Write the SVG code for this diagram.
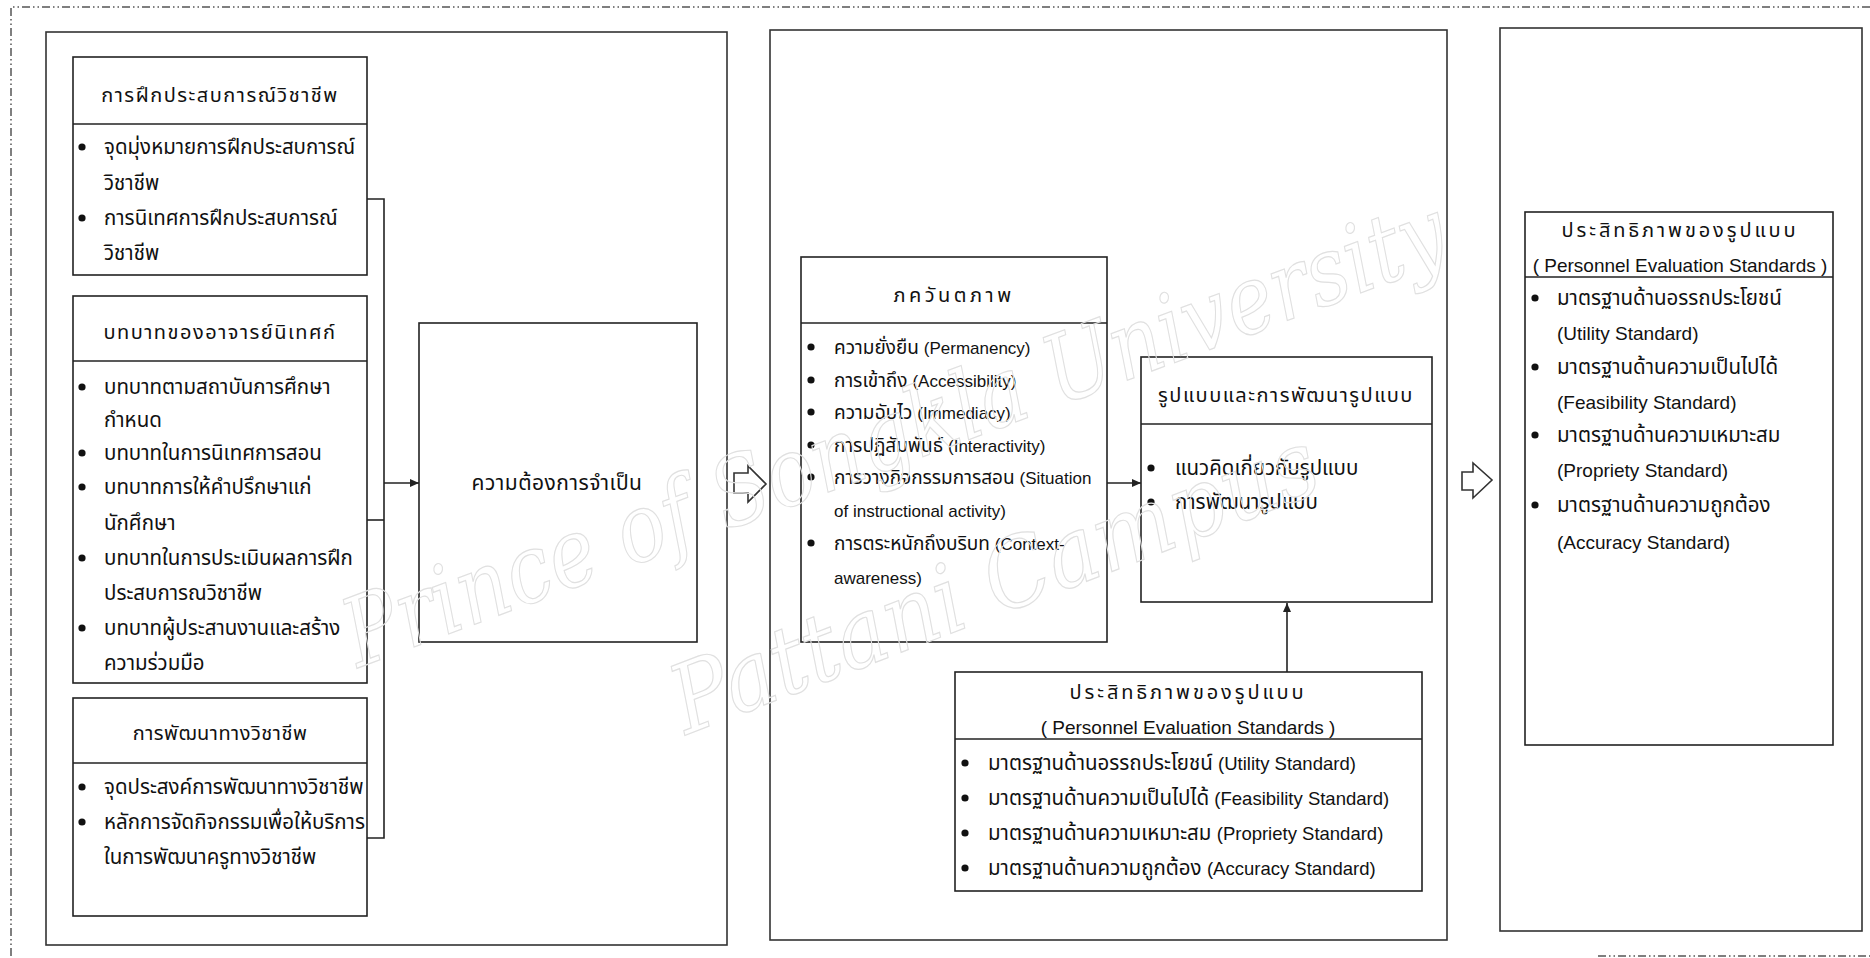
<svg xmlns="http://www.w3.org/2000/svg" width="1870" height="958" viewBox="0 0 1870 958">
<defs>
<style>
.bg{fill:#ffffff}
.panel{fill:none;stroke:#333;stroke-width:1.6}
.box{fill:#ffffff;stroke:#222;stroke-width:1.6}
.div{stroke:#222;stroke-width:1.6}
.t{font-family:"Noto Sans Thai","Liberation Sans",sans-serif;font-size:20.5px;fill:#111}
.tm{font-family:"Noto Sans Thai","Liberation Sans",sans-serif;font-size:19px;fill:#111}
.e{font-family:"Liberation Sans",Arial,sans-serif;font-size:18.5px}
.em{font-family:"Liberation Sans",Arial,sans-serif;font-size:17px}
.h{font-family:"Noto Sans Thai","Liberation Sans",sans-serif;font-size:20px;fill:#111;text-anchor:middle;letter-spacing:1.5px}
.he{font-family:"Liberation Sans",Arial,sans-serif;font-size:19px;fill:#111;text-anchor:middle}
.c{font-family:"Noto Sans Thai","Liberation Sans",sans-serif;font-size:21px;fill:#111;text-anchor:middle;letter-spacing:0.5px}
.dot{fill:#111}
.con{fill:none;stroke:#222;stroke-width:1.6}
.blk{fill:#fff;stroke:#333;stroke-width:1.6;stroke-linejoin:miter}
.frame{fill:none;stroke:#555;stroke-width:1.5;stroke-dasharray:8 3 1.5 3 1.5 3}
.wm{font-family:"DejaVu Serif",serif;font-style:italic;font-size:95px;fill:none;stroke:#e0e0e0;stroke-width:1.2}
</style>
<marker id="ah" markerWidth="10" markerHeight="8" refX="9" refY="4" orient="auto" markerUnits="userSpaceOnUse">
<path d="M0,0 L9,4 L0,8 Z" fill="#222"/>
</marker>
</defs>
<rect class="bg" x="0" y="0" width="1870" height="958"/>
<path class="frame" d="M1870,7 H11 V958"/>
<path class="frame" d="M1598,956 H1870"/>

<g id="panel1"><rect class="panel" x="46" y="32" width="681" height="913"/></g>
<g id="panel2"><rect class="panel" x="770" y="30" width="677" height="910"/></g>
<g id="panel3"><rect class="panel" x="1500" y="28" width="362" height="903"/></g>

<g id="connectors">
<path class="con" d="M367,199 H384 V838 H367"/>
<path class="con" d="M367,520 H384"/>
<path class="con" d="M384,483 H419" marker-end="url(#ah)"/>
<path class="con" d="M1107,483 H1141" marker-end="url(#ah)"/>
<path class="con" d="M1287,672 V603" marker-end="url(#ah)"/>
<polygon class="blk" points="734,473 748,473 748,466 766,484 748,502 748,493 734,493"/>
<polygon class="blk" points="1462,472 1473,472 1473,463 1492,480 1473,498 1473,490 1462,490"/>
</g>

<g id="box-a">
<rect class="box" x="73" y="57" width="294" height="218"/>
<line class="div" x1="73" y1="124" x2="367" y2="124"/>
<text class="h" x="220" y="102">การฝึกประสบการณ์วิชาชีพ</text>
<circle class="dot" cx="82" cy="147" r="3.6"/>
<text class="t" x="104" y="154">จุดมุ่งหมายการฝึกประสบการณ์</text>
<text class="t" x="104" y="190">วิชาชีพ</text>
<circle class="dot" cx="82" cy="218" r="3.6"/>
<text class="t" x="104" y="225">การนิเทศการฝึกประสบการณ์</text>
<text class="t" x="104" y="260">วิชาชีพ</text>
</g>

<g id="box-b">
<rect class="box" x="73" y="296" width="294" height="387"/>
<line class="div" x1="73" y1="361" x2="367" y2="361"/>
<text class="h" x="220" y="339">บทบาทของอาจารย์นิเทศก์</text>
<circle class="dot" cx="82" cy="387" r="3.6"/>
<text class="t" x="104" y="394">บทบาทตามสถาบันการศึกษา</text>
<text class="t" x="104" y="427">กำหนด</text>
<circle class="dot" cx="82" cy="453" r="3.6"/>
<text class="t" x="104" y="460">บทบาทในการนิเทศการสอน</text>
<circle class="dot" cx="82" cy="487" r="3.6"/>
<text class="t" x="104" y="494">บทบาทการให้คำปรึกษาแก่</text>
<text class="t" x="104" y="530">นักศึกษา</text>
<circle class="dot" cx="82" cy="558" r="3.6"/>
<text class="t" x="104" y="565">บทบาทในการประเมินผลการฝึก</text>
<text class="t" x="104" y="600">ประสบการณวิชาชีพ</text>
<circle class="dot" cx="82" cy="628" r="3.6"/>
<text class="t" x="104" y="635">บทบาทผู้ประสานงานและสร้าง</text>
<text class="t" x="104" y="670">ความร่วมมือ</text>
</g>

<g id="box-c">
<rect class="box" x="73" y="698" width="294" height="218"/>
<line class="div" x1="73" y1="763" x2="367" y2="763"/>
<text class="h" x="220" y="740" style="letter-spacing:0.5px">การพัฒนาทางวิชาชีพ</text>
<circle class="dot" cx="82" cy="787" r="3.6"/>
<text class="t" x="104" y="794">จุดประสงค์การพัฒนาทางวิชาชีพ</text>
<circle class="dot" cx="82" cy="822" r="3.6"/>
<text class="t" x="104" y="829">หลักการจัดกิจกรรมเพื่อให้บริการ</text>
<text class="t" x="104" y="864">ในการพัฒนาครูทางวิชาชีพ</text>
</g>

<g id="box-d">
<rect class="box" x="419" y="323" width="278" height="319"/>
<text class="c" x="557" y="490">ความต้องการจำเป็น</text>
</g>

<g id="box-e">
<rect class="box" x="801" y="257" width="306" height="385"/>
<line class="div" x1="801" y1="323" x2="1107" y2="323"/>
<text class="h" x="954" y="302" style="letter-spacing:3.5px">ภควันตภาพ</text>
<circle class="dot" cx="811" cy="347" r="3.6"/>
<text class="tm" x="834" y="354">ความยั่งยืน <tspan class="em">(Permanency)</tspan></text>
<circle class="dot" cx="811" cy="380" r="3.6"/>
<text class="tm" x="834" y="387">การเข้าถึง <tspan class="em">(Accessibility)</tspan></text>
<circle class="dot" cx="811" cy="412" r="3.6"/>
<text class="tm" x="834" y="419">ความฉับไว <tspan class="em">(Immediacy)</tspan></text>
<circle class="dot" cx="811" cy="445" r="3.6"/>
<text class="tm" x="834" y="452">การปฏิสัมพันธ์ <tspan class="em">(Interactivity)</tspan></text>
<circle class="dot" cx="811" cy="477" r="3.6"/>
<text class="tm" x="834" y="484">การวางกิจกรรมการสอน <tspan class="em">(Situation</tspan></text>
<text class="tm" x="834" y="517"><tspan class="em">of instructional activity)</tspan></text>
<circle class="dot" cx="811" cy="543" r="3.6"/>
<text class="tm" x="834" y="550">การตระหนักถึงบริบท <tspan class="em">(Context-</tspan></text>
<text class="tm" x="834" y="584"><tspan class="em">awareness)</tspan></text>
</g>

<g id="box-f">
<rect class="box" x="1141" y="357" width="291" height="245"/>
<line class="div" x1="1141" y1="424" x2="1432" y2="424"/>
<text class="h" x="1286" y="402">รูปแบบและการพัฒนารูปแบบ</text>
<circle class="dot" cx="1151" cy="468" r="3.6"/>
<text class="t" x="1175" y="475">แนวคิดเกี่ยวกับรูปแบบ</text>
<circle class="dot" cx="1151" cy="502" r="3.6"/>
<text class="t" x="1175" y="509">การพัฒนารูปแบบ</text>
</g>

<g id="box-g">
<rect class="box" x="955" y="672" width="467" height="219"/>
<line class="div" x1="955" y1="739" x2="1422" y2="739"/>
<text class="h" x="1188" y="699" style="letter-spacing:2.9px">ประสิทธิภาพของรูปแบบ</text>
<text class="he" x="1188" y="734">( Personnel Evaluation Standards )</text>
<circle class="dot" cx="965" cy="763" r="3.6"/>
<text class="t" x="988" y="770">มาตรฐานด้านอรรถประโยชน์ <tspan class="e">(Utility Standard)</tspan></text>
<circle class="dot" cx="965" cy="798" r="3.6"/>
<text class="t" x="988" y="805">มาตรฐานด้านความเป็นไปได้ <tspan class="e">(Feasibility Standard)</tspan></text>
<circle class="dot" cx="965" cy="833" r="3.6"/>
<text class="t" x="988" y="840">มาตรฐานด้านความเหมาะสม <tspan class="e">(Propriety Standard)</tspan></text>
<circle class="dot" cx="965" cy="868" r="3.6"/>
<text class="t" x="988" y="875">มาตรฐานด้านความถูกต้อง <tspan class="e">(Accuracy Standard)</tspan></text>
</g>

<g id="box-h">
<rect class="box" x="1525" y="212" width="308" height="533"/>
<line class="div" x1="1525" y1="277" x2="1833" y2="277"/>
<text class="h" x="1680" y="237" style="letter-spacing:2.9px">ประสิทธิภาพของรูปแบบ</text>
<text class="he" x="1680" y="272">( Personnel Evaluation Standards )</text>
<circle class="dot" cx="1535" cy="298" r="3.6"/>
<text class="t" x="1557" y="305">มาตรฐานด้านอรรถประโยชน์</text>
<text class="t" x="1557" y="340"><tspan class="e" style="font-size:19px">(Utility Standard)</tspan></text>
<circle class="dot" cx="1535" cy="367" r="3.6"/>
<text class="t" x="1557" y="374">มาตรฐานด้านความเป็นไปได้</text>
<text class="t" x="1557" y="409"><tspan class="e" style="font-size:19px">(Feasibility Standard)</tspan></text>
<circle class="dot" cx="1535" cy="435" r="3.6"/>
<text class="t" x="1557" y="442">มาตรฐานด้านความเหมาะสม</text>
<text class="t" x="1557" y="477"><tspan class="e" style="font-size:19px">(Propriety Standard)</tspan></text>
<circle class="dot" cx="1535" cy="505" r="3.6"/>
<text class="t" x="1557" y="512">มาตรฐานด้านความถูกต้อง</text>
<text class="t" x="1557" y="549"><tspan class="e" style="font-size:19px">(Accuracy Standard)</tspan></text>
</g>

<g id="watermark">
<text class="wm" transform="translate(358,668) rotate(-20.5)" textLength="1170" lengthAdjust="spacingAndGlyphs">Prince of Songkla University</text>
<text class="wm" transform="translate(686,735) rotate(-21)" textLength="685" lengthAdjust="spacingAndGlyphs">Pattani Campus</text>
</g>
</svg>
